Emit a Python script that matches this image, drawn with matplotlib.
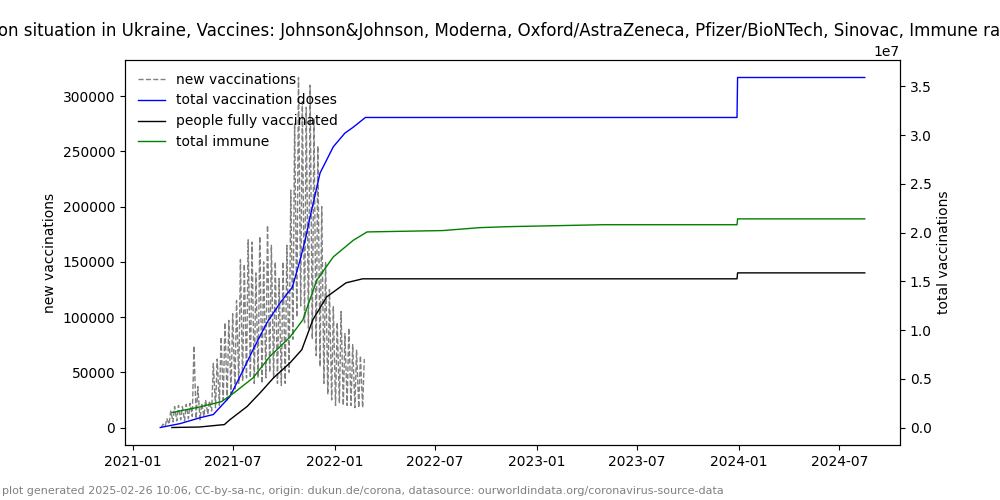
import numpy as np
import pandas as pd
import matplotlib
matplotlib.use("Agg")
import matplotlib.pyplot as plt

# weekly envelope of daily new vaccinations (low on sunday, peak midweek)
week_start = pd.date_range("2021-02-21", periods=53, freq="7D")
weekly_peak = [3000, 8000, 15000, 19000, 20000, 19000, 21000, 22000, 74000, 37000,
               22000, 25000, 24000, 58000, 62000, 82000, 95000, 97000, 103000, 115000,
               152000, 148000, 170000, 168000, 140000, 173000, 150000, 183000, 165000, 150000,
               135000, 150000, 165000, 215000, 275000, 317000, 295000, 290000, 310000, 280000,
               255000, 200000, 150000, 125000, 110000, 95000, 105000, 85000, 90000, 75000,
               70000, 65000, 62000]
weekly_low = [0, 1000, 3000, 5000, 6000, 7000, 6000, 8000, 10000, 8000,
              7000, 10000, 12000, 15000, 18000, 20000, 25000, 25000, 30000, 35000,
              40000, 42000, 45000, 45000, 40000, 45000, 40000, 45000, 50000, 45000,
              40000, 38000, 40000, 50000, 80000, 100000, 110000, 95000, 90000, 80000,
              65000, 55000, 40000, 30000, 25000, 20000, 22000, 20000, 20000, 20000,
              18000, 18000, 18000]

doses_dates = ["2021-02-19", "2021-03-27", "2021-05-02", "2021-05-26", "2021-06-25",
               "2021-07-13", "2021-08-06", "2021-08-31", "2021-09-24", "2021-10-16",
               "2021-10-30", "2021-11-08", "2021-11-17", "2021-12-05", "2021-12-29",
               "2022-01-19", "2022-02-03", "2022-02-25", "2023-12-29", "2023-12-30",
               "2024-08-16"]
doses = [0.0, 0.4, 1.0, 1.33, 3.17, 5.2, 8.0, 10.75, 12.8, 14.4, 17.2, 19.2, 21.6, 26.1,
         28.8, 30.2, 30.8, 31.8, 31.8, 35.9, 35.9]

full_dates = ["2021-03-12", "2021-05-01", "2021-06-15", "2021-06-25", "2021-07-26",
              "2021-08-19", "2021-09-12", "2021-10-12", "2021-11-02", "2021-11-22",
              "2021-12-17", "2022-01-21", "2022-02-20", "2023-12-29", "2023-12-30",
              "2024-08-16"]
full = [0.0, 0.05, 0.3, 0.8, 2.15, 3.58, 5.1, 6.65, 7.98, 11.05, 13.4, 14.84, 15.25,
        15.25, 15.86, 15.86]

immune_dates = ["2021-03-12", "2021-05-01", "2021-06-10", "2021-07-03", "2021-08-06",
                "2021-09-05", "2021-10-12", "2021-11-04", "2021-11-29", "2021-12-29",
                "2022-02-03", "2022-02-28", "2022-07-15", "2022-09-20", "2022-11-10",
                "2023-05-01", "2023-12-29", "2023-12-30", "2024-08-16"]
immune = [1.53, 2.1, 2.66, 3.58, 5.1, 7.27, 9.3, 11.05, 15.1, 17.5, 19.2, 20.06, 20.2,
          20.5, 20.6, 20.8, 20.8, 21.4, 21.4]

title = ("Vaccination situation in Ukraine, Vaccines: Johnson&Johnson, Moderna, "
         "Oxford/AstraZeneca, Pfizer/BioNTech, Sinovac, Immune rate: 54%")
footer = ("plot generated 2025-02-26 10:06, CC-by-sa-nc, origin: dukun.de/corona, "
          "datasource: ourworldindata.org/coronavirus-source-data")

# interleave lows and peaks into one zigzag series
nv_dates = []
nv_vals = []
for d, lo, hi in zip(week_start, weekly_low, weekly_peak):
    nv_dates += [d, d + pd.Timedelta(days=3)]
    nv_vals += [lo, hi]

fig, ax = plt.subplots(figsize=(10, 5), dpi=100)
ax2 = ax.twinx()

l1, = ax.plot(nv_dates, nv_vals, color="grey", linestyle="--", linewidth=1,
              label="new vaccinations")
l2, = ax2.plot(pd.to_datetime(doses_dates), np.array(doses) * 1e6, color="blue",
               linewidth=1, label="total vaccination doses")
l3, = ax2.plot(pd.to_datetime(full_dates), np.array(full) * 1e6, color="black",
               linewidth=1, label="people fully vaccinated")
l4, = ax2.plot(pd.to_datetime(immune_dates), np.array(immune) * 1e6, color="green",
               linewidth=1, label="total immune")

ax.set_ylabel("new vaccinations")
ax2.set_ylabel("total vaccinations")
ax.set_title(title, x=0.476)
ax2.legend(handles=[l1, l2, l3, l4], loc="upper left", frameon=False)

fig.text(0.002, 0.012, footer, fontsize=8, color="grey")
fig.subplots_adjust(left=0.125, right=0.9, bottom=0.11, top=0.88)
fig.savefig("out.png")
plt.close(fig)
